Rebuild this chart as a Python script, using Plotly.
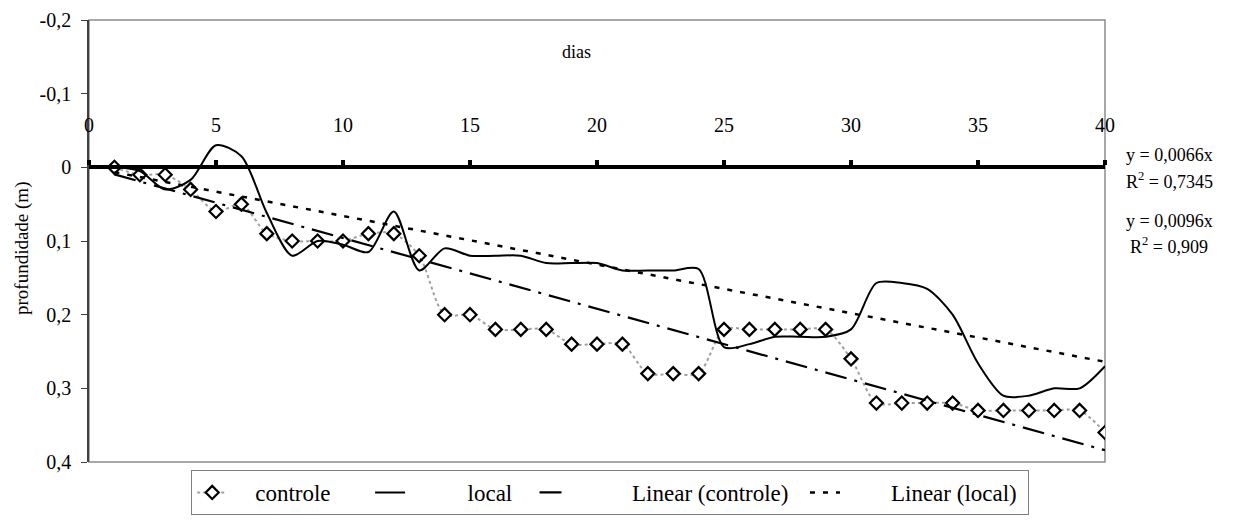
import plotly.graph_objects as go

days = list(range(1, 41))
controle = [0.00, 0.01, 0.01, 0.03, 0.06, 0.05, 0.09, 0.10, 0.10, 0.10,
            0.09, 0.09, 0.12, 0.20, 0.20, 0.22, 0.22, 0.22, 0.24, 0.24,
            0.24, 0.28, 0.28, 0.28, 0.22, 0.22, 0.22, 0.22, 0.22, 0.26,
            0.32, 0.32, 0.32, 0.32, 0.33, 0.33, 0.33, 0.33, 0.33, 0.36]
local = [0.00, 0.005, 0.03, 0.017, -0.03, -0.015, 0.062, 0.12, 0.10, 0.105,
         0.115, 0.06, 0.14, 0.11, 0.12, 0.12, 0.12, 0.13, 0.13, 0.13,
         0.14, 0.14, 0.14, 0.138, 0.244, 0.24, 0.23, 0.23, 0.23, 0.22,
         0.157, 0.157, 0.165, 0.20, 0.266, 0.31, 0.31, 0.30, 0.30, 0.27]
slope_controle = 0.0096
slope_local = 0.0066
r2_controle = "0,909"
r2_local = "0,7345"
x_ticks = [0, 5, 10, 15, 20, 25, 30, 35, 40]
y_ticks = [-0.2, -0.1, 0.0, 0.1, 0.2, 0.3, 0.4]
y_ticklabels = ["-0,2", "-0,1", "0", "0,1", "0,2", "0,3", "0,4"]
series_names = ["controle", "local", "Linear (controle)", "Linear (local)"]

FONT = "Liberation Serif"
NB = "\u00a0"
legend_lead = [4, 10, 10, 8]   # spacing before legend text
legend_trail = [6, 3, 2, 1]    # spacing after legend text


def lname(i):
    return NB * legend_lead[i] + series_names[i] + NB * legend_trail[i]


fig = go.Figure()
fig.add_trace(go.Scatter(
    x=days, y=controle, name=lname(0), mode="lines+markers",
    line=dict(color="#a0a0a0", width=2, dash="dot", shape="spline", smoothing=0.8),
    marker=dict(symbol="diamond", size=10, color="white",
                line=dict(color="black", width=2.2)),
))
fig.add_trace(go.Scatter(
    x=days, y=local, name=lname(1), mode="lines",
    line=dict(color="black", width=2, shape="spline", smoothing=0.8),
))
tx = [days[0], days[-1]]
fig.add_trace(go.Scatter(
    x=tx, y=[slope_controle * v for v in tx], name=lname(2), mode="lines",
    line=dict(color="black", width=2.2, dash="22px,8px,3px,8px"),
))
fig.add_trace(go.Scatter(
    x=tx, y=[slope_local * v for v in tx], name=lname(3), mode="lines",
    line=dict(color="black", width=2.5, dash="5px,8px"),
))

fig.update_layout(
    width=1247, height=525,
    margin=dict(l=81, r=150, t=12, b=71, autoexpand=False),
    paper_bgcolor="white", plot_bgcolor="white",
    font=dict(family=FONT, size=19, color="black"),
    showlegend=True,
    legend=dict(orientation="h", x=0.513, xanchor="center", y=-0.018, yanchor="top",
                bordercolor="#808080", borderwidth=1, font=dict(size=23, family=FONT),
                traceorder="normal", tracegroupgap=0),
    xaxis=dict(range=[0, 40], tickvals=x_ticks, ticktext=[str(v) for v in x_ticks],
               anchor="free", position=2/3, side="top", automargin=False,
               showline=True, linecolor="black", linewidth=4,
               ticks="outside", ticklen=5, tickwidth=4, tickcolor="black",
               ticklabelstandoff=20,
               showgrid=False, zeroline=False,
               tickfont=dict(size=20, family=FONT)),
    yaxis=dict(range=[0.4, -0.2], tickvals=y_ticks, ticktext=y_ticklabels,
               automargin=False,
               showline=True, linecolor="#404040", linewidth=1.5,
               ticks="outside", ticklen=6, tickcolor="#404040",
               ticklabelstandoff=6,
               showgrid=False, zeroline=False,
               tickfont=dict(size=20, family=FONT)),
)

# plot-area border
fig.add_shape(type="rect", xref="paper", yref="paper", x0=0, x1=1, y0=0, y1=1,
              line=dict(color="#8c8c8c", width=1.5), layer="below")

fig.add_annotation(x=-0.066, y=0.484, xref="paper", yref="paper",
                   text="profundidade (m)", textangle=-90,
                   showarrow=False, xanchor="center", yanchor="middle",
                   font=dict(size=19, family=FONT))

fig.add_annotation(x=0.48, y=0.928, xref="paper", yref="paper", text="dias",
                   showarrow=False, xanchor="center", yanchor="middle",
                   font=dict(size=18, family=FONT))

eq_text = [("y = 0,0066x", 0.695), ("R<sup>2</sup> = " + r2_local, 0.636),
           ("y = 0,0096x", 0.545), ("R<sup>2</sup> = " + r2_controle, 0.49)]
for t, yy in eq_text:
    fig.add_annotation(x=1.063, y=yy, xref="paper", yref="paper", text=t,
                       showarrow=False, xanchor="center", yanchor="middle",
                       font=dict(size=18, family=FONT))

fig.write_html("out.html")
